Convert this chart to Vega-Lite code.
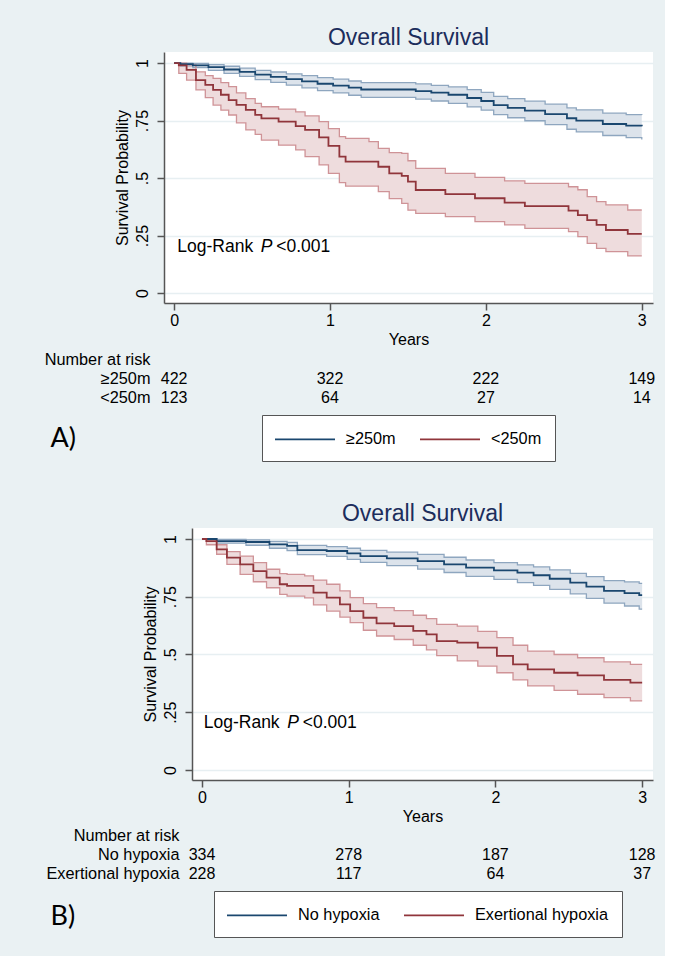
{
  "$schema": "https://vega.github.io/schema/vega-lite/v6.json",
  "background": "#eaf1f3",
  "padding": {"left": 44, "top": 27, "right": 9, "bottom": 18},
  "config": {
    "font": "Liberation Sans",
    "view": {"stroke": null},
    "axis": {"labelFont": "Liberation Sans", "titleFont": "Liberation Sans", "labelFontSize": 16, "titleFontSize": 16, "labelColor": "#000", "titleColor": "#000", "titleFontWeight": "normal", "domainColor": "#555", "tickColor": "#555", "domainWidth": 1.5, "tickWidth": 1.5, "tickSize": 7},
    "axisX": {"grid": false, "labelPadding": 2, "titlePadding": 3, "labelFlush": false},
    "title": {"font": "Liberation Sans", "fontSize": 23, "fontWeight": "normal", "color": "#1c2d5c", "offset": 2, "baseline": "alphabetic"},
    "legend": {"symbolType": "M-3,0H3", "symbolSize": 400, "symbolStrokeWidth": 1.6, "symbolOffset": 19, "labelFontSize": 16.3, "labelColor": "#000", "labelFont": "Liberation Sans", "strokeColor": "#555", "fillColor": "white", "padding": 13, "labelOffset": 30, "columnPadding": 20, "direction": "horizontal", "orient": "none"}
  },
  "datasets": {
    "kmA": [
      {"g": "≥250m", "t": 0, "s": 1, "lo": 1, "hi": 1},
      {"g": "≥250m", "t": 0.04, "s": 0.995, "lo": 0.988, "hi": 1},
      {"g": "≥250m", "t": 0.12, "s": 0.99, "lo": 0.98, "hi": 0.998},
      {"g": "≥250m", "t": 0.22, "s": 0.982, "lo": 0.968, "hi": 0.993},
      {"g": "≥250m", "t": 0.32, "s": 0.972, "lo": 0.955, "hi": 0.986},
      {"g": "≥250m", "t": 0.42, "s": 0.962, "lo": 0.942, "hi": 0.978},
      {"g": "≥250m", "t": 0.52, "s": 0.95, "lo": 0.928, "hi": 0.968},
      {"g": "≥250m", "t": 0.62, "s": 0.94, "lo": 0.916, "hi": 0.961},
      {"g": "≥250m", "t": 0.72, "s": 0.93, "lo": 0.904, "hi": 0.953},
      {"g": "≥250m", "t": 0.82, "s": 0.92, "lo": 0.892, "hi": 0.945},
      {"g": "≥250m", "t": 0.92, "s": 0.91, "lo": 0.88, "hi": 0.937},
      {"g": "≥250m", "t": 1.02, "s": 0.902, "lo": 0.87, "hi": 0.93},
      {"g": "≥250m", "t": 1.12, "s": 0.893, "lo": 0.86, "hi": 0.922},
      {"g": "≥250m", "t": 1.2, "s": 0.885, "lo": 0.851, "hi": 0.915},
      {"g": "≥250m", "t": 1.55, "s": 0.878, "lo": 0.843, "hi": 0.909},
      {"g": "≥250m", "t": 1.65, "s": 0.871, "lo": 0.835, "hi": 0.903},
      {"g": "≥250m", "t": 1.76, "s": 0.862, "lo": 0.825, "hi": 0.896},
      {"g": "≥250m", "t": 1.88, "s": 0.848, "lo": 0.809, "hi": 0.884},
      {"g": "≥250m", "t": 1.97, "s": 0.835, "lo": 0.795, "hi": 0.872},
      {"g": "≥250m", "t": 2.05, "s": 0.817, "lo": 0.776, "hi": 0.855},
      {"g": "≥250m", "t": 2.14, "s": 0.805, "lo": 0.762, "hi": 0.845},
      {"g": "≥250m", "t": 2.25, "s": 0.793, "lo": 0.749, "hi": 0.834},
      {"g": "≥250m", "t": 2.38, "s": 0.778, "lo": 0.732, "hi": 0.821},
      {"g": "≥250m", "t": 2.52, "s": 0.76, "lo": 0.712, "hi": 0.805},
      {"g": "≥250m", "t": 2.58, "s": 0.75, "lo": 0.701, "hi": 0.796},
      {"g": "≥250m", "t": 2.75, "s": 0.735, "lo": 0.685, "hi": 0.782},
      {"g": "≥250m", "t": 2.9, "s": 0.728, "lo": 0.676, "hi": 0.776},
      {"g": "≥250m", "t": 3.0, "s": 0.725, "lo": 0.668, "hi": 0.774},
      {"g": "<250m", "t": 0, "s": 1, "lo": 1, "hi": 1},
      {"g": "<250m", "t": 0.03, "s": 0.99, "lo": 0.955, "hi": 1},
      {"g": "<250m", "t": 0.08, "s": 0.97, "lo": 0.926, "hi": 0.992},
      {"g": "<250m", "t": 0.14, "s": 0.926, "lo": 0.883, "hi": 0.962},
      {"g": "<250m", "t": 0.2, "s": 0.905, "lo": 0.85, "hi": 0.945},
      {"g": "<250m", "t": 0.25, "s": 0.883, "lo": 0.817, "hi": 0.933},
      {"g": "<250m", "t": 0.3, "s": 0.862, "lo": 0.795, "hi": 0.915},
      {"g": "<250m", "t": 0.35, "s": 0.839, "lo": 0.774, "hi": 0.897},
      {"g": "<250m", "t": 0.4, "s": 0.818, "lo": 0.74, "hi": 0.87},
      {"g": "<250m", "t": 0.46, "s": 0.796, "lo": 0.709, "hi": 0.845},
      {"g": "<250m", "t": 0.52, "s": 0.775, "lo": 0.69, "hi": 0.825},
      {"g": "<250m", "t": 0.56, "s": 0.759, "lo": 0.665, "hi": 0.81},
      {"g": "<250m", "t": 0.67, "s": 0.745, "lo": 0.643, "hi": 0.8},
      {"g": "<250m", "t": 0.78, "s": 0.726, "lo": 0.622, "hi": 0.788},
      {"g": "<250m", "t": 0.84, "s": 0.709, "lo": 0.593, "hi": 0.77},
      {"g": "<250m", "t": 0.93, "s": 0.677, "lo": 0.557, "hi": 0.745},
      {"g": "<250m", "t": 0.99, "s": 0.64, "lo": 0.52, "hi": 0.715},
      {"g": "<250m", "t": 1.06, "s": 0.593, "lo": 0.48, "hi": 0.68},
      {"g": "<250m", "t": 1.1, "s": 0.571, "lo": 0.465, "hi": 0.672},
      {"g": "<250m", "t": 1.25, "s": 0.571, "lo": 0.465, "hi": 0.658},
      {"g": "<250m", "t": 1.31, "s": 0.549, "lo": 0.441, "hi": 0.629},
      {"g": "<250m", "t": 1.38, "s": 0.52, "lo": 0.41, "hi": 0.61},
      {"g": "<250m", "t": 1.46, "s": 0.509, "lo": 0.39, "hi": 0.607},
      {"g": "<250m", "t": 1.5, "s": 0.484, "lo": 0.36, "hi": 0.575},
      {"g": "<250m", "t": 1.55, "s": 0.448, "lo": 0.346, "hi": 0.542},
      {"g": "<250m", "t": 1.74, "s": 0.43, "lo": 0.332, "hi": 0.52},
      {"g": "<250m", "t": 1.93, "s": 0.412, "lo": 0.31, "hi": 0.503},
      {"g": "<250m", "t": 2.12, "s": 0.393, "lo": 0.296, "hi": 0.488},
      {"g": "<250m", "t": 2.25, "s": 0.378, "lo": 0.281, "hi": 0.477},
      {"g": "<250m", "t": 2.53, "s": 0.358, "lo": 0.267, "hi": 0.462},
      {"g": "<250m", "t": 2.59, "s": 0.339, "lo": 0.245, "hi": 0.449},
      {"g": "<250m", "t": 2.65, "s": 0.317, "lo": 0.216, "hi": 0.419},
      {"g": "<250m", "t": 2.71, "s": 0.296, "lo": 0.194, "hi": 0.397},
      {"g": "<250m", "t": 2.77, "s": 0.274, "lo": 0.18, "hi": 0.383},
      {"g": "<250m", "t": 2.91, "s": 0.257, "lo": 0.161, "hi": 0.361},
      {"g": "<250m", "t": 3.0, "s": 0.257, "lo": 0.161, "hi": 0.361}
    ],
    "kmB": [
      {"g": "No hypoxia", "t": 0, "s": 1, "lo": 1, "hi": 1},
      {"g": "No hypoxia", "t": 0.1, "s": 0.991, "lo": 0.982, "hi": 0.998},
      {"g": "No hypoxia", "t": 0.3, "s": 0.987, "lo": 0.973, "hi": 0.996},
      {"g": "No hypoxia", "t": 0.46, "s": 0.977, "lo": 0.96, "hi": 0.99},
      {"g": "No hypoxia", "t": 0.58, "s": 0.97, "lo": 0.95, "hi": 0.985},
      {"g": "No hypoxia", "t": 0.65, "s": 0.952, "lo": 0.932, "hi": 0.972},
      {"g": "No hypoxia", "t": 0.85, "s": 0.948, "lo": 0.925, "hi": 0.967},
      {"g": "No hypoxia", "t": 0.99, "s": 0.938, "lo": 0.912, "hi": 0.96},
      {"g": "No hypoxia", "t": 1.08, "s": 0.926, "lo": 0.899, "hi": 0.951},
      {"g": "No hypoxia", "t": 1.26, "s": 0.916, "lo": 0.885, "hi": 0.943},
      {"g": "No hypoxia", "t": 1.47, "s": 0.904, "lo": 0.87, "hi": 0.933},
      {"g": "No hypoxia", "t": 1.65, "s": 0.89, "lo": 0.855, "hi": 0.921},
      {"g": "No hypoxia", "t": 1.8, "s": 0.876, "lo": 0.838, "hi": 0.909},
      {"g": "No hypoxia", "t": 1.99, "s": 0.864, "lo": 0.825, "hi": 0.898},
      {"g": "No hypoxia", "t": 2.15, "s": 0.854, "lo": 0.811, "hi": 0.888},
      {"g": "No hypoxia", "t": 2.26, "s": 0.843, "lo": 0.799, "hi": 0.879},
      {"g": "No hypoxia", "t": 2.37, "s": 0.828, "lo": 0.782, "hi": 0.866},
      {"g": "No hypoxia", "t": 2.51, "s": 0.811, "lo": 0.762, "hi": 0.851},
      {"g": "No hypoxia", "t": 2.62, "s": 0.794, "lo": 0.743, "hi": 0.837},
      {"g": "No hypoxia", "t": 2.74, "s": 0.775, "lo": 0.722, "hi": 0.82},
      {"g": "No hypoxia", "t": 2.88, "s": 0.766, "lo": 0.71, "hi": 0.814},
      {"g": "No hypoxia", "t": 2.98, "s": 0.757, "lo": 0.696, "hi": 0.808},
      {"g": "No hypoxia", "t": 3.0, "s": 0.757, "lo": 0.696, "hi": 0.808},
      {"g": "Exertional hypoxia", "t": 0, "s": 1, "lo": 1, "hi": 1},
      {"g": "Exertional hypoxia", "t": 0.03, "s": 0.991, "lo": 0.975, "hi": 0.998},
      {"g": "Exertional hypoxia", "t": 0.1, "s": 0.955, "lo": 0.934, "hi": 0.975},
      {"g": "Exertional hypoxia", "t": 0.17, "s": 0.919, "lo": 0.89, "hi": 0.945},
      {"g": "Exertional hypoxia", "t": 0.26, "s": 0.89, "lo": 0.847, "hi": 0.926},
      {"g": "Exertional hypoxia", "t": 0.35, "s": 0.861, "lo": 0.815, "hi": 0.898},
      {"g": "Exertional hypoxia", "t": 0.44, "s": 0.833, "lo": 0.789, "hi": 0.869},
      {"g": "Exertional hypoxia", "t": 0.53, "s": 0.804, "lo": 0.76, "hi": 0.85},
      {"g": "Exertional hypoxia", "t": 0.58, "s": 0.797, "lo": 0.753, "hi": 0.847},
      {"g": "Exertional hypoxia", "t": 0.7, "s": 0.797, "lo": 0.745, "hi": 0.84},
      {"g": "Exertional hypoxia", "t": 0.76, "s": 0.768, "lo": 0.715, "hi": 0.822},
      {"g": "Exertional hypoxia", "t": 0.85, "s": 0.746, "lo": 0.688, "hi": 0.804},
      {"g": "Exertional hypoxia", "t": 0.94, "s": 0.717, "lo": 0.662, "hi": 0.775},
      {"g": "Exertional hypoxia", "t": 1.01, "s": 0.688, "lo": 0.638, "hi": 0.746},
      {"g": "Exertional hypoxia", "t": 1.1, "s": 0.659, "lo": 0.605, "hi": 0.72},
      {"g": "Exertional hypoxia", "t": 1.19, "s": 0.635, "lo": 0.58, "hi": 0.703},
      {"g": "Exertional hypoxia", "t": 1.31, "s": 0.623, "lo": 0.565, "hi": 0.69},
      {"g": "Exertional hypoxia", "t": 1.44, "s": 0.602, "lo": 0.54, "hi": 0.67},
      {"g": "Exertional hypoxia", "t": 1.53, "s": 0.587, "lo": 0.52, "hi": 0.655},
      {"g": "Exertional hypoxia", "t": 1.6, "s": 0.558, "lo": 0.495, "hi": 0.63},
      {"g": "Exertional hypoxia", "t": 1.74, "s": 0.551, "lo": 0.472, "hi": 0.623},
      {"g": "Exertional hypoxia", "t": 1.88, "s": 0.53, "lo": 0.45, "hi": 0.6},
      {"g": "Exertional hypoxia", "t": 2.01, "s": 0.494, "lo": 0.421, "hi": 0.573},
      {"g": "Exertional hypoxia", "t": 2.12, "s": 0.457, "lo": 0.39, "hi": 0.54},
      {"g": "Exertional hypoxia", "t": 2.22, "s": 0.436, "lo": 0.364, "hi": 0.515},
      {"g": "Exertional hypoxia", "t": 2.4, "s": 0.421, "lo": 0.345, "hi": 0.5},
      {"g": "Exertional hypoxia", "t": 2.56, "s": 0.41, "lo": 0.328, "hi": 0.486},
      {"g": "Exertional hypoxia", "t": 2.74, "s": 0.39, "lo": 0.313, "hi": 0.468},
      {"g": "Exertional hypoxia", "t": 2.92, "s": 0.378, "lo": 0.299, "hi": 0.457},
      {"g": "Exertional hypoxia", "t": 3.0, "s": 0.378, "lo": 0.299, "hi": 0.457}
    ],
    "riskA": [
      {"row": "≥250m", "t": 0, "n": 422}, {"row": "≥250m", "t": 1, "n": 322}, {"row": "≥250m", "t": 2, "n": 222}, {"row": "≥250m", "t": 3, "n": 149},
      {"row": "<250m", "t": 0, "n": 123}, {"row": "<250m", "t": 1, "n": 64}, {"row": "<250m", "t": 2, "n": 27}, {"row": "<250m", "t": 3, "n": 14}
    ],
    "riskB": [
      {"row": "No hypoxia", "t": 0, "n": 334}, {"row": "No hypoxia", "t": 1, "n": 278}, {"row": "No hypoxia", "t": 2, "n": 187}, {"row": "No hypoxia", "t": 3, "n": 128},
      {"row": "Exertional hypoxia", "t": 0, "n": 228}, {"row": "Exertional hypoxia", "t": 1, "n": 117}, {"row": "Exertional hypoxia", "t": 2, "n": 64}, {"row": "Exertional hypoxia", "t": 3, "n": 37}
    ]
  },
  "resolve": {"scale": {"color": "independent"}},
  "spacing": 41,
  "vconcat": [
    {
      "spacing": 47,
      "bounds": "flush",
      "vconcat": [
        {
          "width": 489, "height": 251,
          "view": {"fill": "white", "stroke": null},
          "title": "Overall Survival",
          "data": {"name": "kmA"},
          "encoding": {
            "x": {"field": "t", "type": "quantitative", "scale": {"domain": [-0.065, 3.072], "nice": false, "zero": false}, "axis": {"values": [0, 1, 2, 3], "format": "d", "title": "Years"}},
            "y": {"field": "s", "type": "quantitative", "title": "Survival Probability", "scale": {"domain": [-0.0435, 1.048], "nice": false, "zero": false},
              "axis": {"values": [0, 0.25, 0.5, 0.75, 1], "labelExpr": "datum.value == 0 ? '0' : datum.value == 1 ? '1' : replace(format(datum.value, '.2~f'), '0.', '.')", "labelAngle": 270, "labelAlign": "center", "labelBaseline": "bottom", "labelPadding": 7, "grid": true, "gridColor": "#e7eff2", "gridWidth": 1.6, "titlePadding": 4, "labelFlush": false, "labelOverlap": false}}
          },
          "layer": [
            {"mark": {"type": "area", "interpolate": "step-after"},
             "encoding": {"y": {"field": "lo", "type": "quantitative", "scale": {"domain": [-0.0435, 1.048], "nice": false, "zero": false}},
               "y2": {"field": "hi"}, "detail": {"field": "g"},
               "fill": {"condition": {"test": "datum.g === '≥250m'", "value": "#dce3eb"}, "value": "#eedcdd"}}},
            {"mark": {"type": "line", "interpolate": "step-after", "strokeWidth": 1.3},
             "encoding": {"y": {"field": "lo", "type": "quantitative", "scale": {"domain": [-0.0435, 1.048], "nice": false, "zero": false}}, "detail": {"field": "g"},
               "stroke": {"condition": {"test": "datum.g === '≥250m'", "value": "#8ea6bf"}, "value": "#cf9397"}}},
            {"mark": {"type": "line", "interpolate": "step-after", "strokeWidth": 1.3},
             "encoding": {"y": {"field": "hi", "type": "quantitative", "scale": {"domain": [-0.0435, 1.048], "nice": false, "zero": false}}, "detail": {"field": "g"},
               "stroke": {"condition": {"test": "datum.g === '≥250m'", "value": "#8ea6bf"}, "value": "#cf9397"}}},
            {"mark": {"type": "line", "interpolate": "step-after", "strokeWidth": 1.8},
             "encoding": {
               "color": {"field": "g", "type": "nominal", "scale": {"domain": ["≥250m", "<250m"], "range": ["#1a476f", "#90353b"]}, "legend": {"orient": "none", "legendX": 98, "legendY": 363, "direction": "horizontal", "title": null}}}},
            {"data": {"values": [{"t": 0.02, "s": 0.2}]},
             "mark": {"type": "text", "text": "Log-Rank", "align": "left", "baseline": "middle", "fontSize": 17.5, "color": "#000"}},
            {"data": {"values": [{"t": 0.02, "s": 0.2}]},
             "mark": {"type": "text", "text": "P", "align": "left", "baseline": "middle", "fontSize": 17.5, "fontStyle": "italic", "dx": 83.5, "color": "#000"}},
            {"data": {"values": [{"t": 0.02, "s": 0.2}]},
             "mark": {"type": "text", "text": "<0.001", "align": "left", "baseline": "middle", "fontSize": 17.5, "dx": 99, "color": "#000"}}
          ]
        },
        {
          "width": 489, "height": 57,
          "view": {"fill": null, "stroke": null},
          "data": {"name": "riskA"},
          "mark": {"type": "text", "fontSize": 16, "align": "center", "baseline": "middle", "color": "#000"},
          "encoding": {
            "x": {"field": "t", "type": "quantitative", "scale": {"domain": [-0.065, 3.072], "nice": false, "zero": false},
              "axis": {"title": "A)", "labels": false, "ticks": false, "domain": false, "grid": false, "titleFont": "Lato", "titleFontSize": 27, "titleFontWeight": "normal", "titleColor": "#000", "titleX": -114, "titleY": 31, "titleAlign": "left", "titleBaseline": "middle", "titleAnchor": "start"}},
            "y": {"field": "row", "type": "nominal", "scale": {"type": "point", "padding": 0.5, "domain": ["Number at risk", "≥250m", "<250m"]},
              "axis": {"title": null, "domain": false, "ticks": false, "tickSize": 0, "grid": false, "labelPadding": 14, "labelFontSize": 16.3, "labelAngle": 0}},
            "text": {"field": "n", "type": "quantitative"}
          }
        }
      ]
    },
    {
      "spacing": 0,
      "bounds": "flush",
      "hconcat": [
        {"width": 28, "height": 10, "view": {"fill": null, "stroke": null}, "data": {"values": []}, "mark": "point"},
        {
          "spacing": 46,
          "bounds": "flush",
          "vconcat": [
            {
              "width": 461, "height": 252,
              "view": {"fill": "white", "stroke": null},
              "title": "Overall Survival",
              "data": {"name": "kmB"},
              "encoding": {
                "x": {"field": "t", "type": "quantitative", "scale": {"domain": [-0.068, 3.074], "nice": false, "zero": false}, "axis": {"values": [0, 1, 2, 3], "format": "d", "title": "Years"}},
                "y": {"field": "s", "type": "quantitative", "title": "Survival Probability", "scale": {"domain": [-0.0433, 1.0476], "nice": false, "zero": false},
                  "axis": {"values": [0, 0.25, 0.5, 0.75, 1], "labelExpr": "datum.value == 0 ? '0' : datum.value == 1 ? '1' : replace(format(datum.value, '.2~f'), '0.', '.')", "labelAngle": 270, "labelAlign": "center", "labelBaseline": "bottom", "labelPadding": 7, "grid": true, "gridColor": "#e7eff2", "gridWidth": 1.6, "titlePadding": 4, "labelFlush": false, "labelOverlap": false}}
              },
              "layer": [
                {"mark": {"type": "area", "interpolate": "step-after"},
                 "encoding": {"y": {"field": "lo", "type": "quantitative", "scale": {"domain": [-0.0433, 1.0476], "nice": false, "zero": false}},
                   "y2": {"field": "hi"}, "detail": {"field": "g"},
                   "fill": {"condition": {"test": "datum.g === 'No hypoxia'", "value": "#dce3eb"}, "value": "#eedcdd"}}},
                {"mark": {"type": "line", "interpolate": "step-after", "strokeWidth": 1.3},
                 "encoding": {"y": {"field": "lo", "type": "quantitative", "scale": {"domain": [-0.0433, 1.0476], "nice": false, "zero": false}}, "detail": {"field": "g"},
                   "stroke": {"condition": {"test": "datum.g === 'No hypoxia'", "value": "#8ea6bf"}, "value": "#cf9397"}}},
                {"mark": {"type": "line", "interpolate": "step-after", "strokeWidth": 1.3},
                 "encoding": {"y": {"field": "hi", "type": "quantitative", "scale": {"domain": [-0.0433, 1.0476], "nice": false, "zero": false}}, "detail": {"field": "g"},
                   "stroke": {"condition": {"test": "datum.g === 'No hypoxia'", "value": "#8ea6bf"}, "value": "#cf9397"}}},
                {"mark": {"type": "line", "interpolate": "step-after", "strokeWidth": 1.8},
                 "encoding": {
                   "color": {"field": "g", "type": "nominal", "scale": {"domain": ["No hypoxia", "Exertional hypoxia"], "range": ["#1a476f", "#90353b"]}, "legend": {"orient": "none", "legendX": 50, "legendY": 363, "direction": "horizontal", "title": null}}}},
                {"data": {"values": [{"t": 0.012, "s": 0.205}]},
                 "mark": {"type": "text", "text": "Log-Rank", "align": "left", "baseline": "middle", "fontSize": 17.5, "color": "#000"}},
                {"data": {"values": [{"t": 0.012, "s": 0.205}]},
                 "mark": {"type": "text", "text": "P", "align": "left", "baseline": "middle", "fontSize": 17.5, "fontStyle": "italic", "dx": 83.5, "color": "#000"}},
                {"data": {"values": [{"t": 0.012, "s": 0.205}]},
                 "mark": {"type": "text", "text": "<0.001", "align": "left", "baseline": "middle", "fontSize": 17.5, "dx": 99, "color": "#000"}}
              ]
            },
            {
              "width": 461, "height": 57,
              "view": {"fill": null, "stroke": null},
              "data": {"name": "riskB"},
              "mark": {"type": "text", "fontSize": 16, "align": "center", "baseline": "middle", "color": "#000"},
              "encoding": {
                "x": {"field": "t", "type": "quantitative", "scale": {"domain": [-0.068, 3.074], "nice": false, "zero": false},
                  "axis": {"title": "B)", "labels": false, "ticks": false, "domain": false, "grid": false, "titleFont": "Lato", "titleFontSize": 27, "titleFontWeight": "normal", "titleColor": "#000", "titleX": -142, "titleY": 33, "titleAlign": "left", "titleBaseline": "middle", "titleAnchor": "start"}},
                "y": {"field": "row", "type": "nominal", "scale": {"type": "point", "padding": 0.5, "domain": ["Number at risk", "No hypoxia", "Exertional hypoxia"]},
                  "axis": {"title": null, "domain": false, "ticks": false, "tickSize": 0, "grid": false, "labelPadding": 13, "labelFontSize": 16.3, "labelAngle": 0}},
                "text": {"field": "n", "type": "quantitative"}
              }
            }
          ]
        }
      ]
    }
  ]
}
